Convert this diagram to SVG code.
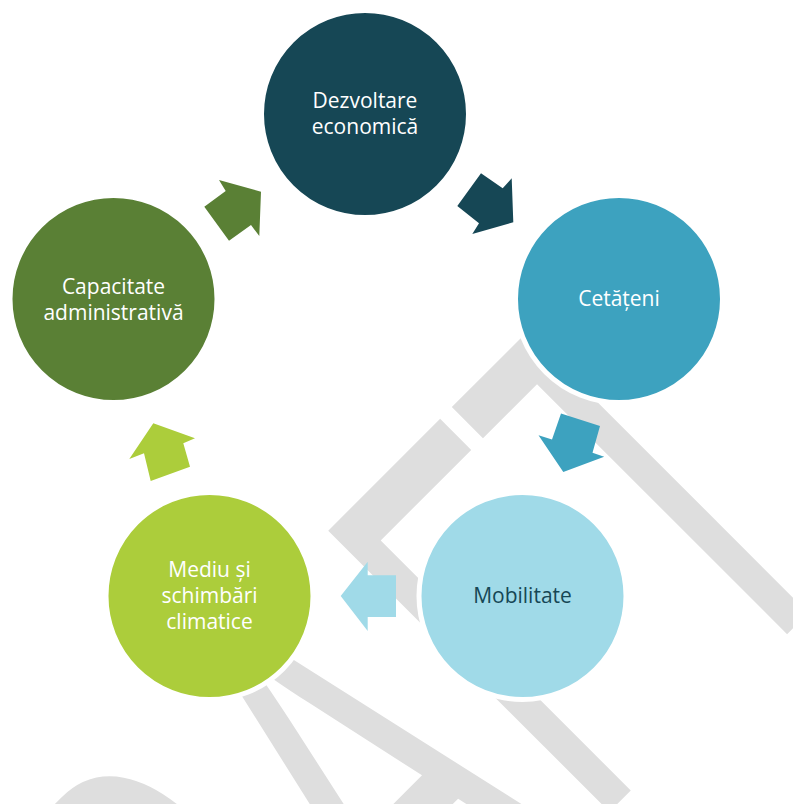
<svg xmlns="http://www.w3.org/2000/svg" width="793" height="804" viewBox="0 0 793 804">
<style>
.wm{font-family:"Liberation Sans",Arial,sans-serif;font-size:578px;fill:#dedede}
.c{stroke:#ffffff;stroke-width:5}
.t{font-family:"Open Sans","Liberation Sans",sans-serif;font-size:21px;text-anchor:middle;fill:#ffffff}
</style>
<rect width="793" height="804" fill="#ffffff"/>
<g id="watermark">
<text class="wm" transform="rotate(-45) scale(0.56,1)" x="-1581 -1164 -714 -303 43.5" y="1005">DRAFT</text>
</g>
<g id="connectors">
<polygon fill="#5a8035" points="204.3,206.7 225.7,191 219,180 261,191.7 259.3,236 251,225 229,240.7"/>
<polygon fill="#164755" points="481,173.3 502.7,188.3 511.7,178.3 513.3,222.3 472.3,234 479,223.3 457.3,206"/>
<polygon fill="#3da2bf" points="561,413.5 600,426 592.5,452.7 604.2,456.7 563.3,472 538.5,435.2 552,439.5"/>
<polygon fill="#a0dae8" points="396,575.3 396,617 367.7,617 367.7,631 340.7,596 367.7,561.7 367.7,575.3"/>
<polygon fill="#accd3b" points="153.3,423.3 195,438.3 183.3,443.3 190,466.7 150.7,481 144,453.3 129.3,459"/>
</g>
<g id="n1">
<circle class="c" cx="365" cy="114" r="103.5" fill="#164755"/>
<text class="t" x="365" y="108">Dezvoltare</text>
<text class="t" x="365" y="134">economică</text>
</g>
<g id="n2">
<circle class="c" cx="619" cy="299" r="103.5" fill="#3da2bf"/>
<text class="t" x="619" y="306">Cetățeni</text>
</g>
<g id="n3">
<circle class="c" cx="522.5" cy="596" r="103.5" fill="#a0dae8"/>
<text class="t" x="522.5" y="603" fill="#164755" style="fill:#164755">Mobilitate</text>
</g>
<g id="n4">
<circle class="c" cx="209.5" cy="596" r="103.5" fill="#accd3b"/>
<text class="t" x="209.5" y="577">Mediu și</text>
<text class="t" x="209.5" y="603">schimbări</text>
<text class="t" x="209.5" y="629">climatice</text>
</g>
<g id="n5">
<circle class="c" cx="113.5" cy="299" r="103.5" fill="#5a8035"/>
<text class="t" x="113.5" y="294">Capacitate</text>
<text class="t" x="113.5" y="320">administrativă</text>
</g>
</svg>
